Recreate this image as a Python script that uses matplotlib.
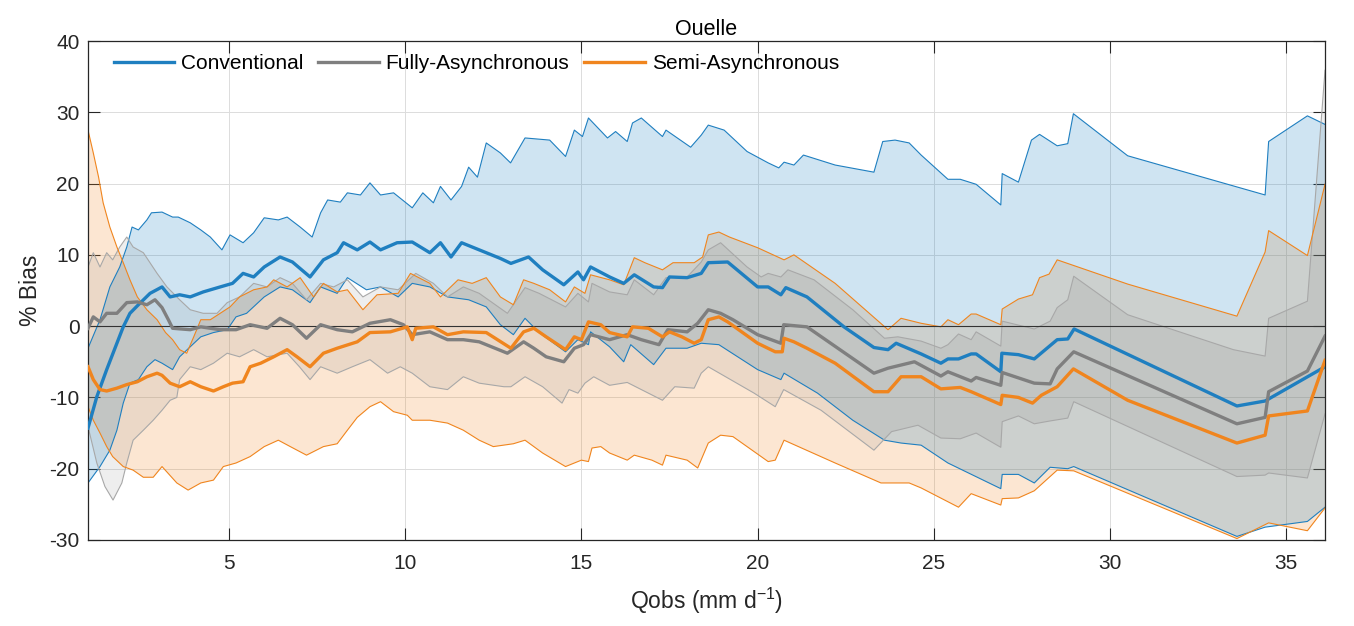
import numpy as np
import matplotlib.pyplot as plt

plt.rcParams['font.family'] = ['Liberation Sans', 'DejaVu Sans']
plt.rcParams['mathtext.fontset'] = 'custom'
plt.rcParams['mathtext.rm'] = 'Liberation Sans'
plt.rcParams['axes.unicode_minus'] = False

# (Qobs, % bias) points
conv_mean = [(1.0,-14.3),(1.25,-9.9),(1.53,-6.1),(1.71,-3.8),(2.0,-0.1),(2.19,1.8),(2.43,3.0),(2.76,4.6),(3.1,5.5),(3.33,4.1),(3.6,4.4),(3.9,4.1),(4.27,4.8),(4.75,5.5),(5.1,6.0),(5.4,7.4),(5.7,6.9),(6.0,8.3),(6.45,9.7),(6.8,9.0),(7.3,6.9),(7.68,9.3),(8.07,10.3),(8.25,11.7),(8.64,10.7),(9.0,11.8),(9.3,10.7),(9.77,11.7),(10.2,11.8),(10.7,10.3),(11.0,11.7),(11.3,9.7),(11.6,11.7),(12.1,10.7),(12.7,9.5),(13.0,8.8),(13.5,9.7),(13.9,7.9),(14.5,5.8),(14.9,7.6),(15.06,6.5),(15.26,8.3),(15.8,6.9),(16.2,6.0),(16.5,7.2),(17.05,5.5),(17.3,5.4),(17.5,6.9),(18.0,6.8),(18.4,7.4),(18.6,8.9),(19.15,9.0),(20.0,5.5),(20.3,5.5),(20.66,4.4),(20.8,5.4),(21.4,4.1),(22.45,-0.1),(23.3,-3.0),(23.7,-3.3),(23.93,-2.4),(24.64,-3.9),(25.2,-5.2),(25.4,-4.6),(25.7,-4.6),(26.06,-3.9),(26.2,-3.9),(26.9,-6.4),(26.93,-3.8),(27.4,-4.0),(27.85,-4.6),(28.5,-1.9),(28.8,-1.8),(28.98,-0.4),(33.6,-11.2),(34.4,-10.5),(36.1,-5.7)]
conv_hi = [(1.0,-3.1),(1.34,0.9),(1.62,5.5),(1.9,8.3),(2.1,11.1),(2.25,13.9),(2.43,13.5),(2.67,14.9),(2.8,15.9),(3.1,16.0),(3.4,15.3),(3.56,15.3),(3.9,14.5),(4.2,13.5),(4.47,12.5),(4.8,10.7),(5.03,12.8),(5.4,11.7),(5.7,13.1),(6.0,15.2),(6.4,14.9),(6.65,15.3),(7.02,13.9),(7.36,12.5),(7.6,15.9),(7.8,17.7),(8.16,17.4),(8.36,18.7),(8.73,18.4),(9.0,20.1),(9.3,18.4),(9.67,18.7),(10.2,16.6),(10.5,18.7),(10.8,17.3),(11.0,19.6),(11.3,17.7),(11.6,19.6),(11.8,22.3),(12.05,20.9),(12.3,25.7),(12.7,24.3),(12.99,22.9),(13.4,26.4),(14.1,26.1),(14.55,23.8),(14.8,27.5),(15.03,26.6),(15.2,29.2),(15.74,26.4),(15.97,27.3),(16.3,25.9),(16.45,28.5),(16.7,29.2),(17.3,26.6),(17.4,27.5),(18.1,25.1),(18.4,26.8),(18.6,28.2),(19.05,27.5),(19.7,24.5),(20.3,22.9),(20.6,22.2),(20.75,23.0),(21.03,22.6),(21.3,24.0),(22.2,22.6),(23.3,21.6),(23.55,25.9),(23.9,26.1),(24.3,25.7),(24.64,24.0),(25.4,20.6),(25.75,20.6),(26.2,19.9),(26.9,17.0),(26.94,21.4),(27.4,20.2),(27.77,26.1),(28.0,26.9),(28.5,25.3),(28.8,25.6),(28.96,29.8),(30.5,23.9),(34.4,18.4),(34.5,25.9),(35.6,29.5),(36.1,28.3)]
conv_lo = [(1.0,-22.0),(1.34,-19.7),(1.62,-17.4),(1.82,-14.6),(2.0,-10.8),(2.19,-8.0),(2.43,-7.5),(2.67,-5.7),(2.9,-4.7),(3.1,-5.2),(3.4,-6.1),(3.6,-4.3),(3.9,-2.9),(4.2,-1.5),(4.56,-0.9),(4.95,-0.5),(5.2,1.3),(5.5,1.8),(6.0,4.1),(6.45,5.5),(6.8,5.1),(7.3,3.3),(7.6,5.5),(8.07,4.6),(8.36,6.8),(8.9,5.1),(9.3,5.5),(9.8,4.1),(10.2,6.0),(10.7,5.5),(11.2,4.1),(11.8,3.7),(12.3,2.7),(12.7,0.2),(13.07,-1.2),(13.4,1.1),(13.8,-0.9),(14.55,-3.6),(14.9,-1.9),(15.2,-2.6),(15.26,-0.8),(15.8,-2.9),(16.2,-5.0),(16.4,-2.6),(17.05,-5.4),(17.4,-3.1),(18.0,-3.1),(18.4,-2.4),(18.9,-2.6),(20.0,-6.1),(20.66,-7.5),(20.75,-6.6),(21.7,-9.4),(22.7,-13.2),(23.6,-16.0),(24.07,-16.4),(24.64,-16.7),(25.4,-19.2),(26.15,-21.0),(26.9,-22.8),(26.94,-20.8),(27.4,-20.8),(27.85,-22.0),(28.3,-19.8),(28.8,-20.0),(28.97,-19.7),(33.6,-29.5),(34.4,-28.2),(35.6,-27.4),(36.1,-25.4)]

fa_mean = [(1.0,-0.3),(1.15,1.3),(1.34,0.6),(1.53,1.8),(1.82,1.8),(2.1,3.3),(2.4,3.4),(2.67,3.0),(2.9,3.7),(3.1,2.6),(3.28,0.9),(3.4,-0.3),(3.9,-0.5),(4.2,-0.1),(4.75,-0.5),(5.2,-0.5),(5.6,0.2),(6.08,-0.3),(6.45,1.1),(6.8,0.2),(7.2,-1.7),(7.6,0.2),(8.07,-0.5),(8.5,-0.8),(9.0,0.4),(9.58,0.9),(9.95,0.2),(10.2,-1.2),(10.7,-0.8),(11.2,-1.9),(11.65,-1.9),(12.1,-2.2),(12.9,-3.8),(13.36,-2.2),(13.65,-3.1),(14.0,-4.3),(14.5,-5.0),(14.8,-3.1),(15.06,-2.6),(15.26,-1.2),(15.8,-1.9),(16.3,-1.2),(16.7,-1.9),(17.2,-2.6),(17.45,-0.5),(18.0,-0.8),(18.3,0.4),(18.6,2.3),(18.95,1.8),(19.3,0.9),(20.0,-1.2),(20.66,-2.4),(20.74,0.2),(21.4,-0.1),(23.3,-6.6),(23.7,-5.9),(24.45,-5.0),(25.2,-7.0),(25.4,-6.4),(26.06,-7.7),(26.2,-7.2),(26.9,-8.3),(26.94,-6.5),(27.85,-8.0),(28.3,-8.1),(28.5,-6.0),(28.97,-3.6),(33.6,-13.7),(34.4,-12.8),(34.5,-9.2),(35.6,-6.3),(36.1,-1.4)]
fa_hi = [(1.0,8.3),(1.15,10.3),(1.34,8.3),(1.53,10.3),(1.7,9.3),(1.9,11.1),(2.1,12.5),(2.28,11.1),(2.57,10.3),(2.96,7.4),(3.24,5.5),(3.6,3.7),(3.9,2.3),(4.27,1.8),(4.66,1.8),(4.95,3.3),(5.3,4.1),(5.7,6.0),(6.08,5.5),(6.45,6.8),(6.8,6.0),(7.2,3.7),(7.6,6.0),(7.97,5.5),(8.36,6.5),(8.8,4.1),(9.3,5.5),(9.8,5.1),(10.3,7.4),(10.8,6.0),(11.2,4.1),(11.65,5.5),(12.1,4.6),(12.9,1.8),(13.4,5.4),(13.8,4.6),(14.55,2.7),(14.9,4.6),(15.2,3.4),(15.3,6.0),(15.8,4.8),(16.3,4.4),(16.5,6.5),(17.05,4.4),(17.4,6.8),(18.0,6.9),(18.4,9.0),(18.6,10.7),(18.95,11.7),(19.7,8.3),(20.1,6.9),(20.3,7.4),(20.66,6.9),(20.86,7.9),(21.6,6.5),(22.7,2.3),(23.6,-1.7),(23.98,-1.5),(24.64,-2.1),(25.2,-3.1),(25.4,-2.6),(25.7,-1.1),(26.06,-1.9),(26.2,-0.8),(26.9,-2.8),(26.94,0.7),(27.85,-0.4),(28.3,0.7),(28.5,2.6),(28.8,3.7),(28.97,7.0),(30.5,1.6),(33.5,-3.3),(34.4,-4.2),(34.5,1.1),(35.6,3.5),(36.1,35.9)]
fa_lo = [(1.0,-14.1),(1.25,-19.2),(1.48,-22.5),(1.71,-24.4),(1.96,-22.0),(2.1,-19.2),(2.28,-16.0),(2.57,-14.6),(2.85,-13.2),(3.1,-11.8),(3.33,-10.4),(3.52,-10.0),(3.6,-7.5),(3.9,-5.7),(4.2,-6.1),(4.56,-5.2),(4.95,-3.8),(5.3,-4.3),(5.7,-3.3),(6.08,-4.3),(6.65,-3.8),(7.0,-5.7),(7.3,-7.5),(7.6,-5.7),(8.07,-6.6),(8.5,-5.7),(9.0,-4.7),(9.5,-6.6),(9.86,-5.7),(10.2,-6.6),(10.7,-8.5),(11.2,-8.9),(11.65,-7.1),(12.1,-8.0),(12.8,-8.5),(13.0,-8.5),(13.4,-7.1),(13.9,-8.5),(14.45,-10.8),(14.65,-8.9),(14.9,-9.4),(15.1,-8.0),(15.35,-7.1),(15.8,-8.3),(16.3,-7.9),(16.7,-8.9),(17.3,-10.4),(17.65,-8.5),(18.2,-8.7),(18.4,-6.6),(18.6,-5.7),(19.9,-9.4),(20.5,-11.3),(20.74,-8.9),(21.8,-11.8),(23.3,-17.4),(23.8,-14.8),(24.55,-13.9),(25.2,-15.7),(25.75,-15.8),(26.2,-15.0),(26.9,-17.0),(26.94,-13.4),(27.4,-12.6),(27.85,-13.7),(28.3,-13.3),(28.8,-12.9),(28.97,-10.6),(33.6,-21.1),(34.4,-20.9),(34.5,-20.6),(35.6,-21.3),(36.1,-12.3)]

sa_mean = [(1.0,-5.7),(1.15,-7.5),(1.34,-8.9),(1.53,-9.1),(1.82,-8.7),(2.1,-8.2),(2.4,-7.8),(2.67,-7.1),(2.96,-6.6),(3.1,-6.9),(3.33,-8.0),(3.6,-8.5),(3.9,-7.8),(4.2,-8.5),(4.56,-9.1),(4.84,-8.5),(5.1,-8.0),(5.4,-7.8),(5.6,-5.7),(5.9,-5.2),(6.27,-4.3),(6.65,-3.3),(6.93,-4.3),(7.3,-5.7),(7.68,-3.8),(8.07,-3.1),(8.64,-2.2),(9.0,-0.9),(9.58,-0.8),(10.06,-0.1),(10.2,-1.9),(10.3,-0.3),(10.8,-0.1),(11.2,-1.2),(11.65,-0.8),(12.3,-0.9),(13.0,-3.1),(13.36,-0.8),(13.65,-0.3),(14.0,-1.5),(14.55,-3.3),(14.8,-1.5),(15.0,-1.9),(15.2,0.6),(15.55,0.2),(15.8,-0.9),(16.3,-1.5),(16.45,-0.1),(16.9,-0.3),(17.3,-1.5),(17.5,-0.8),(17.85,-1.5),(18.2,-2.4),(18.4,-1.9),(18.6,0.9),(18.9,1.3),(19.15,0.6),(20.0,-2.4),(20.5,-3.6),(20.7,-3.6),(20.75,-1.7),(21.03,-2.2),(21.4,-3.1),(22.2,-5.2),(23.3,-9.2),(23.7,-9.2),(24.07,-7.1),(24.64,-7.1),(25.2,-8.8),(25.75,-8.6),(26.06,-9.2),(26.9,-11.0),(26.94,-9.7),(27.4,-10.0),(27.8,-10.8),(28.05,-9.7),(28.5,-8.5),(28.96,-6.0),(30.5,-10.4),(33.6,-16.4),(34.4,-15.3),(34.5,-12.6),(35.6,-11.9),(36.1,-4.8)]
sa_hi = [(1.0,27.5),(1.15,24.3),(1.3,20.9),(1.43,17.3),(1.62,13.9),(1.82,11.1),(2.0,8.9),(2.19,6.5),(2.4,4.1),(2.67,2.3),(2.96,0.9),(3.2,-0.9),(3.4,-1.9),(3.6,-3.3),(3.8,-3.8),(4.0,-1.5),(4.2,0.9),(4.47,0.9),(4.75,1.8),(5.03,2.7),(5.3,4.1),(5.7,5.1),(6.08,5.5),(6.27,6.5),(6.65,5.5),(7.02,6.8),(7.4,4.1),(7.68,6.0),(8.07,4.8),(8.36,5.1),(8.8,2.3),(9.2,4.4),(9.8,4.6),(10.15,7.4),(10.7,6.0),(11.0,4.1),(11.5,6.5),(11.9,6.0),(12.3,6.8),(12.7,4.1),(13.07,3.0),(13.36,6.5),(13.65,6.0),(14.1,5.1),(14.55,3.4),(14.8,5.5),(15.1,4.6),(15.26,7.2),(15.8,6.5),(16.2,5.8),(16.5,9.6),(16.8,8.9),(17.3,7.9),(17.6,8.9),(18.2,8.9),(18.44,9.7),(18.6,12.8),(18.9,13.2),(19.2,12.5),(20.0,11.0),(20.75,9.3),(21.03,10.0),(22.2,6.0),(23.7,-0.5),(24.07,1.1),(24.64,0.4),(25.2,-0.1),(25.4,0.9),(25.7,0.2),(26.06,1.7),(26.2,1.7),(26.9,0.2),(26.94,2.4),(27.4,3.8),(27.8,4.4),(28.0,6.8),(28.27,7.3),(28.5,9.3),(30.5,5.9),(33.6,1.4),(34.4,10.4),(34.5,13.4),(35.6,9.9),(36.1,19.9)]
sa_lo = [(1.0,-11.3),(1.15,-13.2),(1.34,-15.0),(1.53,-16.9),(1.7,-18.3),(2.0,-19.7),(2.28,-20.2),(2.57,-21.2),(2.85,-21.2),(3.1,-19.7),(3.52,-22.0),(3.84,-23.0),(4.2,-22.0),(4.56,-21.6),(4.84,-19.7),(5.2,-19.2),(5.6,-18.3),(6.0,-16.9),(6.4,-16.0),(6.74,-16.9),(7.2,-18.1),(7.68,-16.9),(8.07,-16.5),(8.36,-14.6),(8.64,-12.8),(9.0,-11.3),(9.3,-10.6),(9.67,-12.0),(10.06,-12.5),(10.2,-13.2),(10.7,-13.2),(11.2,-13.6),(11.65,-14.6),(12.1,-16.0),(12.5,-16.9),(13.07,-16.5),(13.4,-16.0),(13.9,-17.8),(14.55,-19.7),(15.0,-18.8),(15.2,-19.0),(15.3,-17.1),(15.55,-16.9),(15.8,-17.8),(16.3,-18.8),(16.5,-18.1),(17.0,-18.8),(17.3,-19.5),(17.4,-18.1),(18.0,-18.8),(18.3,-19.9),(18.6,-16.4),(18.95,-15.3),(19.3,-15.5),(20.3,-19.0),(20.5,-18.8),(20.75,-16.0),(22.2,-19.2),(23.5,-22.0),(24.3,-22.0),(24.64,-22.7),(25.7,-25.4),(26.06,-23.5),(26.9,-25.1),(26.94,-24.2),(27.4,-24.1),(27.85,-23.1),(28.5,-20.2),(28.97,-20.3),(33.6,-29.8),(34.5,-27.6),(35.6,-28.7),(36.1,-25.5)]

labels = ['Conventional', 'Fully-Asynchronous', 'Semi-Asynchronous']
colors = ['#1f7fc0', '#7f7f7f', '#f0851e']
edge_colors = ['#1f7fc0', '#a8a8a8', '#f0851e']
fill_colors = ['#0072bd', '#808080', '#f0851e']
fill_alpha = [0.19, 0.13, 0.2]
fill_z = [1.1, 1.2, 1.0]   # semi at the bottom, conventional over it, fully-async on top

series = [(conv_mean, conv_hi, conv_lo), (fa_mean, fa_hi, fa_lo), (sa_mean, sa_hi, sa_lo)]

fig = plt.figure(figsize=(13.54, 6.26), dpi=100)
ax = fig.add_axes([0.065, 0.1374, 0.9136, 0.7971])

for i, (mean, hi, lo) in enumerate(series):
    hx, hy = np.array(hi).T
    lx, ly = np.array(lo).T
    ax.fill(np.r_[hx, lx[::-1]], np.r_[hy, ly[::-1]], color=fill_colors[i],
            alpha=fill_alpha[i], lw=0, zorder=fill_z[i])
    ax.plot(hx, hy, color=edge_colors[i], lw=0.8, zorder=2)
    ax.plot(lx, ly, color=edge_colors[i], lw=0.8, zorder=2)

ax.axhline(0, color='#333333', lw=0.8, zorder=3)

for (mean, hi, lo), c, lab in zip(series, colors, labels):
    mx, my = np.array(mean).T
    ax.plot(mx, my, color=c, lw=2.4, label=lab, zorder=4)

ax.set_xlim(1, 36.1)
ax.set_ylim(-30, 40)
ax.set_xticks(np.arange(5, 36, 5))
ax.set_yticks(np.arange(-30, 41, 10))
ax.grid(True, color='#dcdcdc', lw=0.7)
ax.set_axisbelow(True)
ax.tick_params(direction='in', length=8.6, width=0.8, top=True, right=True,
               labelsize=15, colors='#262626')
ax.tick_params(axis='x', pad=10)
ax.tick_params(axis='y', pad=6)
for s in ax.spines.values():
    s.set_color('#262626')
    s.set_linewidth(0.9)

ax.set_title('Ouelle', fontsize=15.5, color='#000000', pad=4)
ax.set_xlabel(r'Qobs (mm d$^{\mathrm{-1}}$)', fontsize=16.5, color='#262626', labelpad=9)
ax.set_ylabel('% Bias', fontsize=16.5, color='#262626', labelpad=5)

ax.legend(loc='upper left', ncol=3, frameon=False, fontsize=15,
          handlelength=2.9, handletextpad=0.33, columnspacing=0.72,
          bbox_to_anchor=(0.014, 0.99), borderaxespad=0)

plt.savefig('out.png', dpi=100)
